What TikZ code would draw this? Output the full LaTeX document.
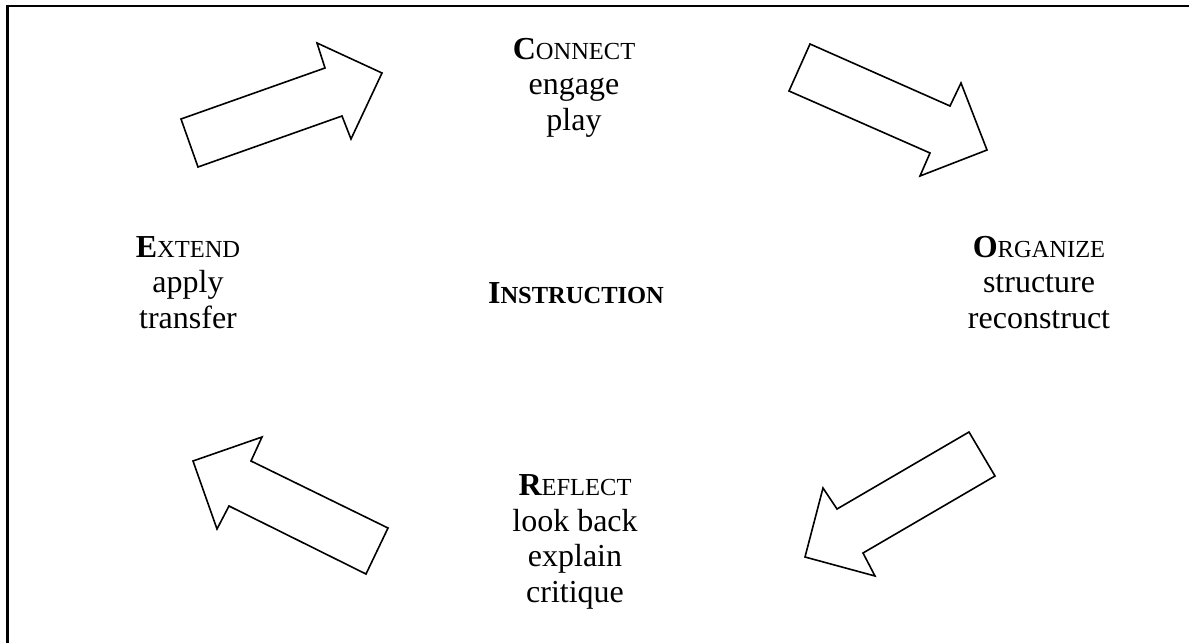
\documentclass[tikz,border=0pt]{standalone}
\usepackage{fontspec}
\setmainfont{Liberation Serif}
\newcommand\smcap[2]{{\bfseries #1}{\fontsize{24.5}{35.5}\selectfont #2}}
\newcommand\smcapb[2]{{\bfseries #1{\fontsize{24.5}{35.5}\selectfont #2}}}
\begin{document}
\begin{tikzpicture}[x=1pt,y=-1pt,
  blockarrow/.style={draw=black,line width=1.6pt,fill=white,line join=miter},
  label/.style={font=\fontsize{32}{35.5}\selectfont,align=center,inner sep=0pt,anchor=base},
  frame/.style={line width=2.6pt}]
\useasboundingbox (0,0) rectangle (1189,643);
\draw[frame] (7.7,643) -- (7.7,6) -- (1189,6);
% arrows
\draw[blockarrow] (181,119) -- (325,68) -- (317,43) -- (382,73) -- (351,139) -- (342,116) -- (198,167) -- cycle;
\draw[blockarrow] (810,44) -- (950,106) -- (961,83) -- (987,150) -- (920,176) -- (930,153) -- (789,91) -- cycle;
\draw[blockarrow] (969,432) -- (995,476) -- (863,553) -- (875,576) -- (805,557) -- (823,488) -- (837,509) -- cycle;
\draw[blockarrow] (262,437) -- (251,461) -- (388,528) -- (366,574) -- (229,506) -- (217,529) -- (193,461) -- cycle;
% texts (base anchor = baseline of last line)
\node[label] (connect) at (574,130) {\smcap{C}{ONNECT}\\engage\\play};
\node[label] (extend) at (188,328) {\smcap{E}{XTEND}\\apply\\transfer};
\node[label] (organize) at (1039,328) {\smcap{O}{RGANIZE}\\structure\\reconstruct};
\node[label] (reflect) at (575,602) {\smcap{R}{EFLECT}\\look back\\explain\\critique};
\node[label] (instr) at (576,303) {\smcapb{I}{NSTRUCTION}};
\end{tikzpicture}
\end{document}
